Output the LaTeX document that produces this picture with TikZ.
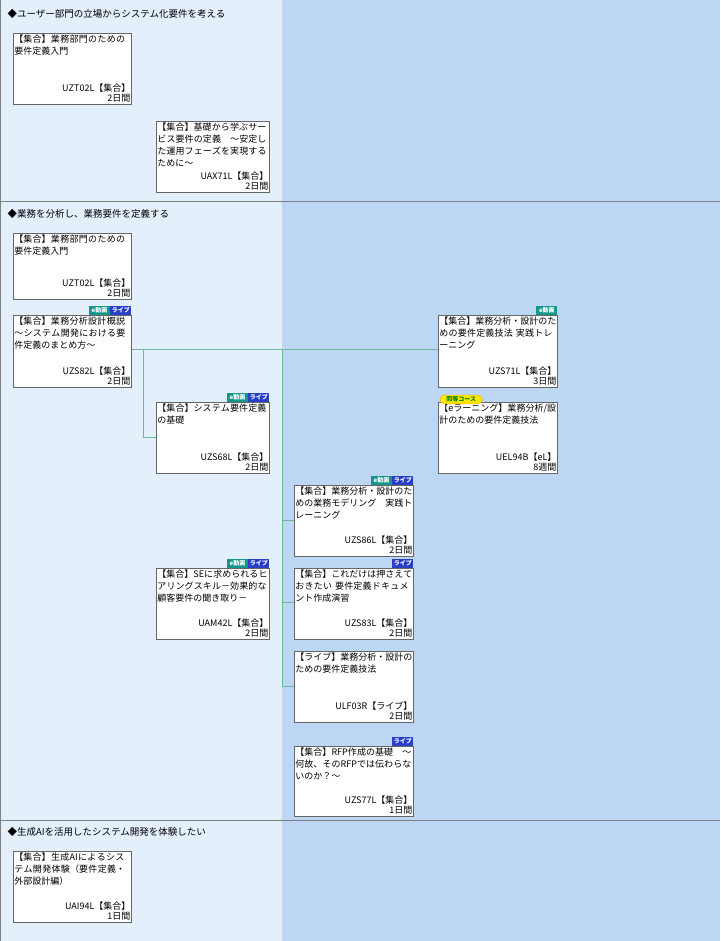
\documentclass[tikz,border=0pt]{standalone}
\usepackage{fontspec}
\setmainfont{Noto Sans CJK JP}
\XeTeXlinebreaklocale "ja"
\XeTeXlinebreakskip=0pt plus 1pt
\definecolor{lbg}{HTML}{E4EFFC}
\definecolor{rbg}{HTML}{BDD6F3}
\definecolor{cn}{HTML}{6DB89A}
\definecolor{ltb}{HTML}{2A3FC8}
\definecolor{edb}{HTML}{12978A}
\begin{document}
\begin{tikzpicture}[x=1pt,y=-1pt,
  box/.style={draw=black!60,fill=white,line width=0.6pt,anchor=north west,inner sep=0pt},
  ttl/.style={anchor=north west,text width=#1,align=left,font=\fontsize{9}{12}\selectfont,inner sep=1.2pt},
  tr/.style={anchor=south east,font=\fontsize{9}{11}\selectfont,inner sep=1pt,align=right},
  conn/.style={draw=cn,line width=0.9pt},
  bg/.style={font=\fontsize{6}{6}\selectfont\bfseries,text=white,inner sep=0.8pt,minimum height=9pt,anchor=south east},
  hd/.style={anchor=west,font=\fontsize{9.5}{11}\selectfont}]
\useasboundingbox (0,0) rectangle (720,941);
\fill[lbg] (0,0) rectangle (282,941);
\fill[rbg] (282,0) rectangle (720,941);
\draw[black!50] (0,201) -- (720,201);
\draw[black!50] (0,820) -- (720,820);
\draw[black!50] (0.5,0) -- (0.5,941);
\node[hd] (h1) at (4,14) {◆ユーザー部門の立場からシステム化要件を考える};
\node[hd] (h2) at (4,214) {◆業務を分析し、業務要件を定義する};
\node[hd] (h3) at (4,832) {◆生成AIを活用したシステム開発を体験したい};
\newcommand{\cbox}[8]{%
 \node[box,minimum width=#4,minimum height=#5] (#1) at (#2,#3) {};
 \node[ttl=#4-2] at (#1.north west) {#6};
 \node[tr] at ([yshift=1]#1.south east) {#7\\[-1pt]#8};}
\cbox{a}{13}{33}{118}{71}{【集合】業務部門のための要件定義入門}{UZT02L【集合】}{2日間}
\cbox{b}{156}{121}{113}{71}{【集合】基礎から学ぶサービス要件の定義　～安定した運用フェーズを実現するために～}{UAX71L【集合】}{2日間}
\cbox{c}{13}{233}{118}{66}{【集合】業務部門のための要件定義入門}{UZT02L【集合】}{2日間}
\cbox{d}{13}{315}{118}{72}{【集合】業務分析設計概説～システム開発における要件定義のまとめ方～}{UZS82L【集合】}{2日間}
\cbox{e}{156}{402}{113}{71}{【集合】システム要件定義の基礎}{UZS68L【集合】}{2日間}
\cbox{f}{438}{315}{119}{72}{【集合】業務分析・設計のための要件定義技法 実践トレーニング}{UZS71L【集合】}{3日間}
\cbox{g}{438}{402}{119}{71}{【eラーニング】業務分析/設計のための要件定義技法}{UEL94B【eL】}{8週間}
\cbox{h}{294}{485}{119}{71}{【集合】業務分析・設計のための業務モデリング　実践トレーニング}{UZS86L【集合】}{2日間}
\cbox{i}{156}{568}{113}{71}{【集合】SEに求められるヒアリングスキル－効果的な顧客要件の聞き取り－}{UAM42L【集合】}{2日間}
\cbox{j}{294}{568}{119}{71}{【集合】これだけは押さえておきたい 要件定義ドキュメント作成演習}{UZS83L【集合】}{2日間}
\cbox{k}{294}{651}{119}{71}{【ライブ】業務分析・設計のための要件定義技法}{ULF03R【ライブ】}{2日間}
\cbox{l}{294}{746}{119}{70}{【集合】RFP作成の基礎　～何故、そのRFPでは伝わらないのか？～}{UZS77L【集合】}{1日間}
\cbox{m}{13}{851}{118}{71}{【集合】生成AIによるシステム開発体験（要件定義・外部設計編）}{UAI94L【集合】}{1日間}
% badges
\newcommand{\live}[2]{\node[bg,fill=ltb,minimum width=21pt] (#1) at (#2) {ライブ};}
\newcommand{\edou}[2]{\node[bg,fill=edb,minimum width=21pt] (#1) at (#2) {e動画};}
\live{dl}{d.north east}\edou{de}{dl.south west}
\live{el}{e.north east}\edou{ee}{el.south west}
\edou{fe}{f.north east}
\live{hl}{h.north east}\edou{he}{hl.south west}
\live{il}{i.north east}\edou{ie}{il.south west}
\live{jl}{j.north east}
\live{ll}{l.north east}
\node[fill=yellow!90!orange,draw=orange!70!yellow,text=green!50!black,rounded corners=4pt,font=\fontsize{6}{6}\selectfont\bfseries,inner sep=1.5pt,minimum width=42pt,anchor=south west] (eq) at ([xshift=2,yshift=-2]g.north west) {同等コース};
% connectors
\coordinate (v1) at (143,349);
\coordinate (v2) at (282,349);
\draw[conn] (d.east |- v1) -- (f.west |- v1);
\draw[conn] (v1) |- (e.west |- 0,437);
\draw[conn] (v2) -- (282,686) -- (k.west |- 0,686);
\draw[conn] (282,520) -- (h.west |- 0,520);
\draw[conn] (282,602) -- (j.west |- 0,602);
\end{tikzpicture}
\end{document}
